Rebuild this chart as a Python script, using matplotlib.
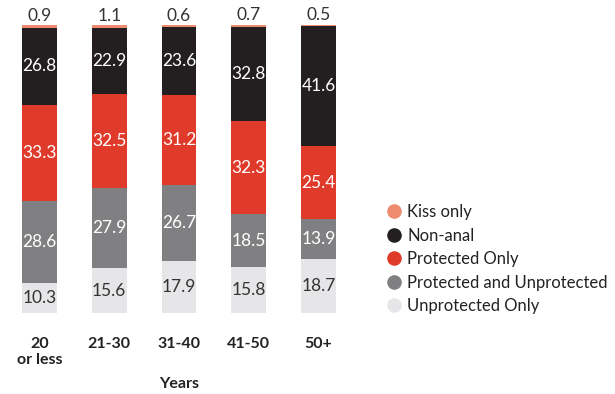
import matplotlib.pyplot as plt
from matplotlib.lines import Line2D

# ====================================
# DATA
# ====================================

groups = ["20\nor less", "21-30", "31-40", "41-50", "50+"]

unprotected_only = [10.3, 15.6, 17.9, 15.8, 18.7]
protected_and_unprotected = [28.6, 27.9, 26.7, 18.5, 13.9]
protected_only = [33.3, 32.5, 31.2, 32.3, 25.4]
non_anal = [26.8, 22.9, 23.6, 32.8, 41.6]
kiss_only = [0.9, 1.1, 0.6, 0.7, 0.5]

series_names = [
    "Unprotected Only",
    "Protected and Unprotected",
    "Protected Only",
    "Non-anal",
    "Kiss only",
]

# ====================================
# STYLE
# ====================================

plt.rcParams["font.family"] = ["Lato", "DejaVu Sans"]

colors = ["#e6e6e8", "#808082", "#e03a2a", "#231f20", "#ee8a6e"]
text_colors = ["#333333", "white", "white", "white", "#333333"]

# ====================================
# PLOT
# ====================================

fig = plt.figure(figsize=(6.15, 3.94), dpi=100)

ax = fig.add_axes([0.0075, 0.2056, 0.567, 0.731])

series = [
    unprotected_only,
    protected_and_unprotected,
    protected_only,
    non_anal,
    kiss_only,
]

x = list(range(len(groups)))
bottoms = [0.0] * len(groups)

for k, values in enumerate(series):

    ax.bar(
        x,
        values,
        width=0.5,
        bottom=bottoms,
        color=colors[k],
        linewidth=0
    )

    for i, v in enumerate(values):

        if k == len(series) - 1:
            # thin top segment gets its label above the bar
            ax.text(
                i,
                bottoms[i] + v + 0.5,
                f"{v}",
                ha="center",
                va="bottom",
                fontsize=12.5,
                color=text_colors[k]
            )
        else:
            ax.text(
                i,
                bottoms[i] + v / 2,
                f"{v}",
                ha="center",
                va="center",
                fontsize=12.5,
                color=text_colors[k]
            )

    bottoms = [b + v for b, v in zip(bottoms, values)]

ax.set_xlim(-0.5, 4.5)
ax.set_ylim(0, 100)

ax.set_xticks(x)
ax.set_xticklabels(groups, fontsize=11.5, fontweight="bold", color="#222222")
ax.tick_params(axis="x", length=0, pad=17)
ax.set_yticks([])

for spine in ax.spines.values():
    spine.set_visible(False)

ax.set_xlabel("Years", fontsize=11.5, fontweight="bold", color="#222222", labelpad=7)

# ====================================
# LEGEND
# ====================================

handles = []
for k in reversed(range(len(series))):
    handles.append(
        Line2D(
            [0], [0],
            marker="o",
            linestyle="",
            markersize=10.5,
            markerfacecolor=colors[k],
            markeredgewidth=0
        )
    )

fig.legend(
    handles,
    list(reversed(series_names)),
    loc="upper left",
    bbox_to_anchor=(0.6, 0.52),
    frameon=False,
    fontsize=12,
    labelspacing=0.45,
    handletextpad=0.2,
    handlelength=1.2,
    labelcolor="#222222"
)

plt.savefig("out.png", dpi=100)
plt.close()
